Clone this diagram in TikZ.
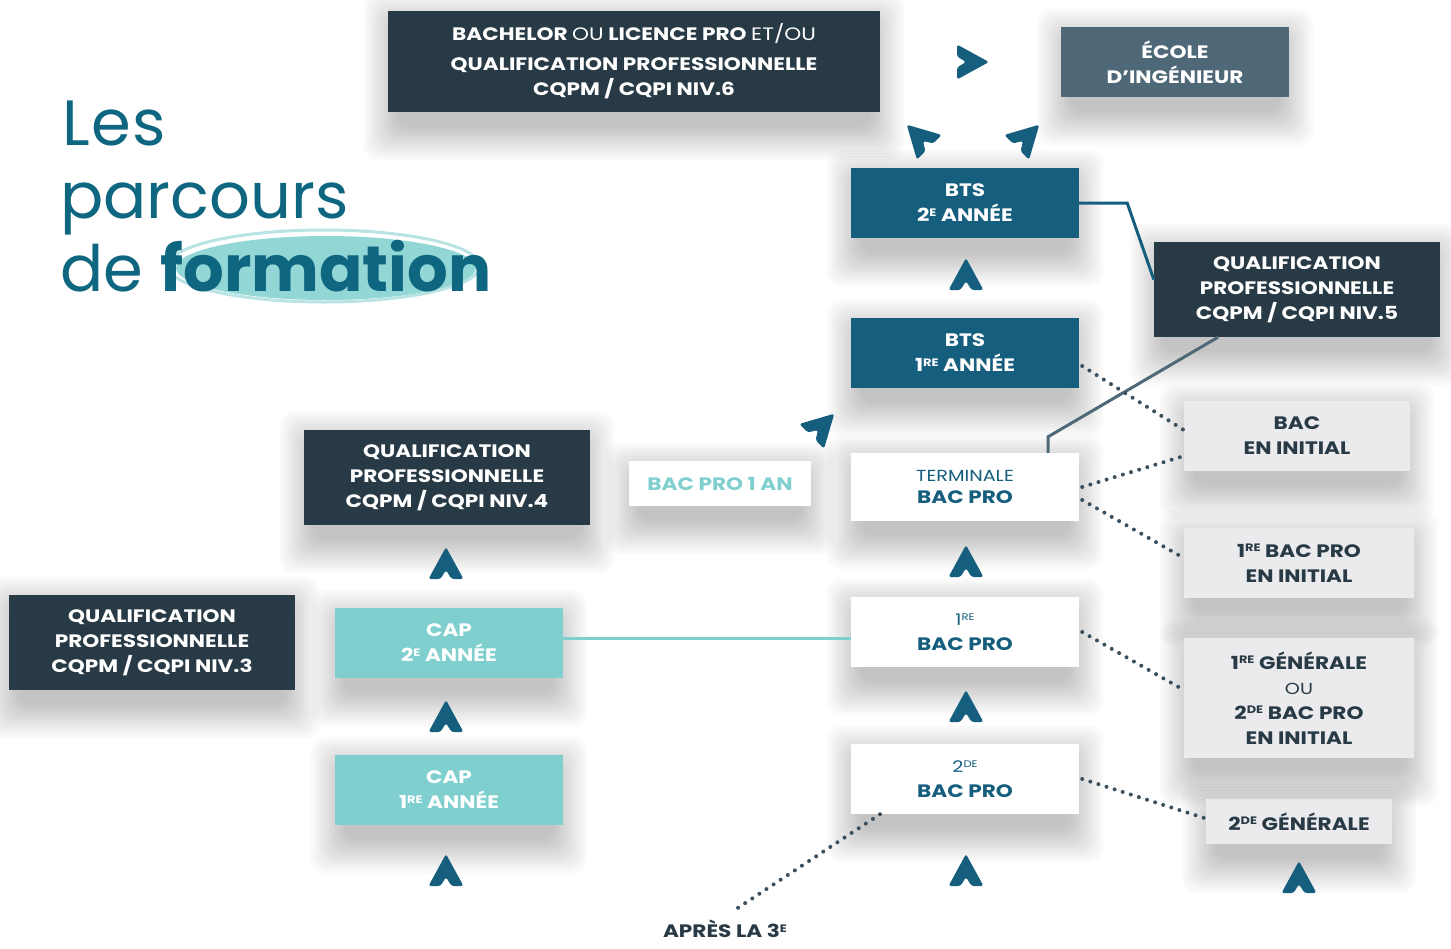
\documentclass[tikz,border=0pt]{standalone}
\usepackage{fontspec}
\setmainfont{Poppins}
\newfontfamily\boitefont{Poppins}[FakeStretch=1.2]
\usetikzlibrary{backgrounds, calc}

\definecolor{ardoise}{HTML}{283A45}
\definecolor{acier}{HTML}{4F6878}
\definecolor{petrole}{HTML}{165E7D}
\definecolor{lagon}{HTML}{80CFCF}
\definecolor{perle}{HTML}{EBEBEE}
\definecolor{titre}{HTML}{0E6680}
\definecolor{pointcol}{HTML}{3C4F5C}

\newcommand\expo[1]{\raisebox{0.3em}{\scalebox{0.6}{#1}}}

\tikzset{
    chevron/.pic={
        \fill[petrole, rounded corners=2.5pt] (0,-16) -- (17.5,16) -- (5.5,16) -- (0,7) -- (-5.5,16) -- (-17.5,16) -- cycle;
    }
}

\begin{document}
\begin{tikzpicture}[x=1pt, y=-1pt,
        base/.style={rectangle, inner sep=0pt, align=center, font=\boitefont\bfseries\fontsize{18}{25}\selectfont},
        taille/.style 2 args={minimum width=#1pt, minimum height=#2pt},
        sombre/.style={base, fill=ardoise, text=white},
        ecole/.style={base, fill=acier, text=white},
        bts/.style={base, fill=petrole, text=white},
        capbox/.style={base, fill=lagon, text=white},
        blanc/.style={base, fill=white, text=petrole},
        gris/.style={base, fill=perle, text=ardoise},
        grandtitre/.style={anchor=base west, inner sep=0pt, text=titre, font=\fontsize{64}{64}\selectfont},
        pointille/.style={draw=pointcol, line width=4pt, line cap=round, dash pattern=on 0pt off 8.5pt},
        trait/.style={line width=3pt}
    ]
    \useasboundingbox (0,0) rectangle (1451,948);

    % titre
    \fill[lagon, opacity=0.85] (326,268) ellipse [x radius=150pt, y radius=32pt];
    \draw[lagon!60, line width=3pt, opacity=0.9] (324,266) ellipse [x radius=156pt, y radius=36pt];
    \node[grandtitre] (les) at (62,145) {L\kern2pt e\kern1pt s};
    \node[grandtitre] (parcours) at (60,218) {parcours};
    \node[grandtitre] (formation) at (60,291) {de \textbf{formation}};

    % boites
    \node[sombre, taille={492}{101}] (bachelor) at (634,61.5) {BACHELOR {\mdseries OU} LICENCE PRO {\mdseries ET/OU}\\[5pt] QUALIFICATION PROFESSIONNELLE\\ CQPM / CQPI NIV.6};
    \node[ecole, taille={228}{70}] (ingenieur) at (1175,62) {ÉCOLE\\ D’INGÉNIEUR};
    \node[bts, taille={228}{70}] (btsb) at (965,203) {BTS\\ 2\expo{E} ANNÉE};
    \node[sombre, taille={286}{95}] (qualifv) at (1297,289.5) {QUALIFICATION\\ PROFESSIONNELLE\\ CQPM / CQPI NIV.5};
    \node[bts, taille={228}{70}] (btsa) at (965,353) {BTS\\ 1\expo{RE} ANNÉE};
    \node[sombre, taille={286}{95}] (qualifiv) at (447,477.5) {QUALIFICATION\\ PROFESSIONNELLE\\ CQPM / CQPI NIV.4};
    \node[blanc, text=lagon, taille={182}{45}] (unan) at (720,483.5) {BAC PRO 1 AN};
    \node[blanc, taille={228}{68}] (terminale) at (965,487) {{\mdseries\fontsize{16}{21}\selectfont TERMINALE}\\[-3pt] BAC PRO};
    \node[gris, taille={226}{70}] (bacinit) at (1297,436) {BAC\\ EN INITIAL};
    \node[gris, taille={230}{70}] (premproinit) at (1299,563) {1\expo{RE} BAC PRO\\ EN INITIAL};
    \node[sombre, taille={286}{95}] (qualifiii) at (152,642.5) {QUALIFICATION\\ PROFESSIONNELLE\\ CQPM / CQPI NIV.3};
    \node[capbox, taille={228}{70}] (capb) at (449,643) {CAP\\ 2\expo{E} ANNÉE};
    \node[blanc, taille={228}{70}] (prempro) at (965,632) {{\mdseries\fontsize{16}{21}\selectfont 1\expo{RE}}\\ BAC PRO};
    \node[gris, taille={230}{120}] (premgen) at (1299,698) {1\expo{RE} GÉNÉRALE\\ {\mdseries\fontsize{16}{25}\selectfont OU}\\ 2\expo{DE} BAC PRO\\ EN INITIAL};
    \node[capbox, taille={228}{70}] (capa) at (449,790) {CAP\\ 1\expo{RE} ANNÉE};
    \node[blanc, taille={228}{70}] (secpro) at (965,779) {{\mdseries\fontsize{16}{21}\selectfont 2\expo{DE}}\\ BAC PRO};
    \node[gris, taille={186}{45}] (secgen) at (1299,821.5) {2\expo{DE} GÉNÉRALE};
    \node[base, fill=white, text=ardoise, taille={1430}{38}] (apres) at (725,929) {APRÈS LA 3\expo{E}};

    % ombres
    \begin{scope}[on background layer]
        \fill[white] (0,0) rectangle (1451,948);
        \foreach \n in {bachelor,ingenieur,btsb,qualifv,btsa,qualifiv,unan,terminale,bacinit,premproinit,qualifiii,capb,prempro,premgen,capa,secpro,secgen}
            \foreach \k in {1,...,12}
                \fill[black, opacity=0.02, rounded corners=14pt] ($(\n.north west)+({-\k*3+12},{18-\k*3})$) rectangle ($(\n.south east)+({\k*3-12},{12+\k*3})$);
    \end{scope}

    % liaisons
    \draw[trait, petrole] (btsb.east) -- ++(48,0) -- ([yshift=10pt]qualifv.west);
    \draw[trait, acier] ([xshift=-79pt]qualifv.south) -- ([xshift=83pt,yshift=16pt]terminale.north) -- ([xshift=83pt]terminale.north);
    \draw[trait, lagon] ([yshift=5pt]capb.east) -- ([yshift=5pt]capb.east -| prempro.west);
    \draw[pointille] ([xshift=3pt,yshift=-13pt]btsa.east) -- ([yshift=6pt]bacinit.west);
    \draw[pointille] ([xshift=3pt]terminale.east) -- ([yshift=-20pt]bacinit.west);
    \draw[pointille] ([xshift=3pt,yshift=-13pt]terminale.east) -- ([yshift=5pt]premproinit.west);
    \draw[pointille] ([xshift=3pt]prempro.east) -- ([yshift=8pt]premgen.west);
    \draw[pointille] ([xshift=3pt]secpro.east) -- ([yshift=3pt]secgen.west);
    \draw[pointille] ([xshift=-85pt]secpro.south) -- ([xshift=10pt]apres.north);

    % chevrons
    \foreach \x/\y/\a in {446/563/0, 446/716/0, 446/870/0, 966/274/0, 966/561/0, 966/706/0, 966/870/0, 1299/877/0,
            973/62/-90, 918/136/45, 1028/136/-45, 823/425/-45}
        \pic[rotate=\a] at (\x,\y) {chevron};
\end{tikzpicture}
\end{document}
